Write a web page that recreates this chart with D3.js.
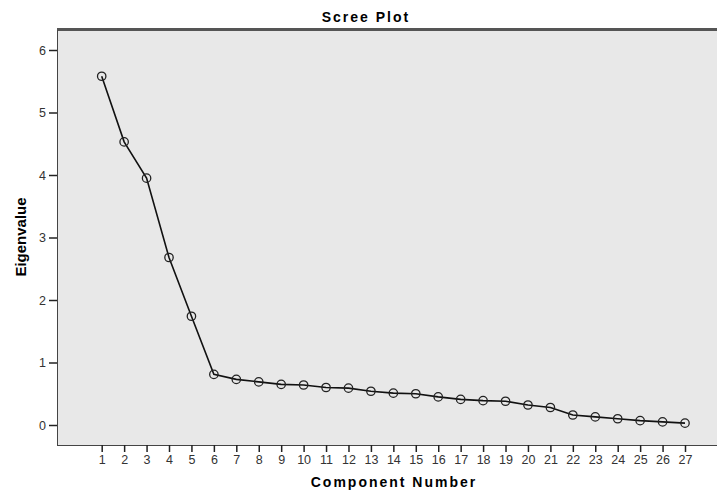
<!DOCTYPE html>
<html>
<head>
<meta charset="utf-8">
<script src="https://cdn.jsdelivr.net/npm/d3@7"></script>
<style>
  body { margin: 0; background: #fff; }
  svg { display: block; font-family: "Liberation Sans", Arial, sans-serif; }
</style>
</head>
<body>
<svg id="viz" width="717" height="491"></svg>
<script>
// scree plot data
const components = d3.range(1, 28);
const eigenvalues = [5.58, 4.53, 3.95, 2.68, 1.74, 0.81, 0.73, 0.69, 0.65, 0.64,
  0.60, 0.59, 0.54, 0.51, 0.50, 0.45, 0.41, 0.39, 0.38, 0.32,
  0.28, 0.16, 0.13, 0.10, 0.07, 0.05, 0.03];
const yTicks = [0, 1, 2, 3, 4, 5, 6];

const svg = d3.select("#viz");
const plot = { left: 57, right: 717, top: 30, bottom: 445 };

const x = d3.scaleLinear().domain([1, 27]).range([101.7, 685]);
const y = d3.scaleLinear().domain([0, 6]).range([425, 50]);

// plot background
svg.append("rect")
  .attr("x", plot.left)
  .attr("y", plot.top)
  .attr("width", plot.right - plot.left)
  .attr("height", plot.bottom - plot.top)
  .attr("fill", "#e8e8e8");

// top border
svg.append("line")
  .attr("x1", plot.left).attr("x2", plot.right)
  .attr("y1", plot.top - 0.5).attr("y2", plot.top - 0.5)
  .attr("stroke", "#555").attr("stroke-width", 3);

// y axis
const yAxis = svg.append("g")
  .attr("transform", `translate(${plot.left},0)`)
  .call(d3.axisLeft(y).tickValues(yTicks).tickSize(8).tickPadding(3).tickFormat(d3.format("d")));
yAxis.select(".domain").attr("d", `M0.5,${plot.top}V${plot.bottom}`).attr("stroke", "#444");
yAxis.selectAll(".tick line").attr("stroke", "#222").attr("stroke-width", 1.5);
yAxis.selectAll("text").attr("font-size", 12.5).attr("fill", "#333");

// x axis
const xAxis = svg.append("g")
  .attr("transform", `translate(0,${plot.bottom})`)
  .call(d3.axisBottom(x).tickValues(components).tickSize(7).tickPadding(3).tickFormat(d3.format("d")));
xAxis.select(".domain").attr("d", `M${plot.left},0.5H${plot.right}`).attr("stroke", "#444");
xAxis.selectAll(".tick line").attr("stroke", "#222").attr("stroke-width", 1.5);
xAxis.selectAll("text").attr("font-size", 12.5).attr("fill", "#333");

// line
svg.append("path")
  .datum(eigenvalues)
  .attr("fill", "none")
  .attr("stroke", "#111")
  .attr("stroke-width", 1.6)
  .attr("d", d3.line().x((d, i) => x(components[i])).y(d => y(d)));

// markers
svg.selectAll("circle.pt")
  .data(eigenvalues)
  .enter()
  .append("circle")
  .attr("class", "pt")
  .attr("cx", (d, i) => x(components[i]))
  .attr("cy", d => y(d))
  .attr("r", 4.2)
  .attr("fill", "none")
  .attr("stroke", "#222")
  .attr("stroke-width", 1.3);

// title
svg.append("text")
  .attr("x", 366).attr("y", 22)
  .attr("text-anchor", "middle")
  .attr("font-size", 14).attr("font-weight", "bold")
  .attr("letter-spacing", 2)
  .text("Scree Plot");

// axis titles
svg.append("text")
  .attr("x", 394).attr("y", 487)
  .attr("text-anchor", "middle")
  .attr("font-size", 14).attr("font-weight", "bold")
  .attr("letter-spacing", 2)
  .text("Component Number");

svg.append("text")
  .attr("transform", "translate(26,237) rotate(-90)")
  .attr("text-anchor", "middle")
  .attr("font-size", 15).attr("font-weight", "bold")
  .text("Eigenvalue");
</script>
</body>
</html>
